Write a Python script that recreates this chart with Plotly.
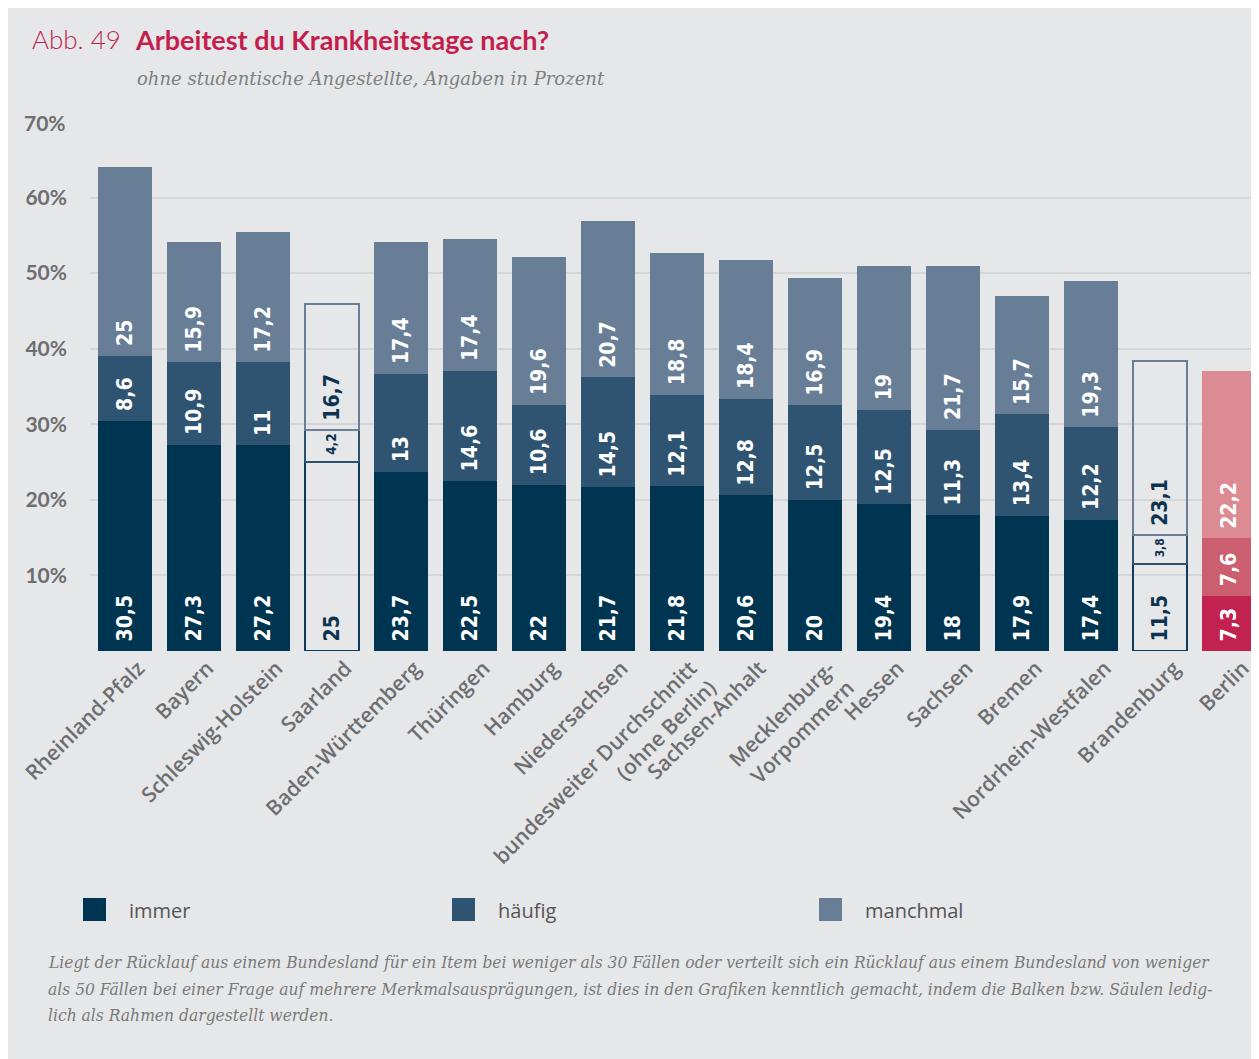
import plotly.graph_objects as go

# ---------------- data ----------------
categories = [
    "Rheinland-Pfalz", "Bayern", "Schleswig-Holstein", "Saarland",
    "Baden-Württemberg", "Thüringen", "Hamburg", "Niedersachsen",
    "bundesweiter Durchschnitt<br>(ohne Berlin)", "Sachsen-Anhalt",
    "Mecklenburg-<br>Vorpommern", "Hessen", "Sachsen", "Bremen",
    "Nordrhein-Westfalen", "Brandenburg", "Berlin",
]
immer = [30.5, 27.3, 27.2, 25, 23.7, 22.5, 22, 21.7, 21.8, 20.6, 20, 19.4, 18, 17.9, 17.4, 11.5, 7.3]
haeufig = [8.6, 10.9, 11, 4.2, 13, 14.6, 10.6, 14.5, 12.1, 12.8, 12.5, 12.5, 11.3, 13.4, 12.2, 3.8, 7.6]
manchmal = [25, 15.9, 17.2, 16.7, 17.4, 17.4, 19.6, 20.7, 18.8, 18.4, 16.9, 19, 21.7, 15.7, 19.3, 23.1, 22.2]
series_names = ["immer", "häufig", "manchmal"]
outline_only = ["Saarland", "Brandenburg"]
highlight = ["Berlin"]
y_tick_vals = [10, 20, 30, 40, 50, 60]
y_tick_text = ["10%", "20%", "30%", "40%", "50%", "60%"]
top_tick_val = 70
top_tick_text = "70%"

# ---------------- style ----------------
BG = "#e6e7e8"
GRID = "#d5d6d8"
NAVY = "#0d3350"
base_colors = ["#003551", "#2f5472", "#687e97"]
berlin_colors = ["#c1224f", "#cc5f6f", "#dc8b92"]
outline_colors = ["#0f3a59", "#2b5070", "#6a7f97"]

OFF = 8  # page body margin
W, H = 1251, 1051
L, R, T, B = 82, 0, 114, 408
PW = W - L - R
PH = H - T - B


def px_x(x):
    return (x - OFF - L) / PW


def px_y(y):
    return (H - B - (y - OFF)) / PH


def fmt(v):
    return f"{v:g}".replace(".", ",")


fig = go.Figure()
for s, (name, vals) in enumerate(zip(series_names, [immer, haeufig, manchmal])):
    fills, lcols, lw, tcols = [], [], [], []
    for cat in categories:
        if cat in outline_only:
            fills.append("rgba(0,0,0,0)")
            lcols.append(outline_colors[s])
            lw.append(2)
            tcols.append(NAVY)
        elif cat in highlight:
            fills.append(berlin_colors[s])
            lcols.append(berlin_colors[s])
            lw.append(0)
            tcols.append("white")
        else:
            fills.append(base_colors[s])
            lcols.append(base_colors[s])
            lw.append(0)
            tcols.append("white")
    fig.add_trace(go.Bar(
        x=categories, y=vals, name=name,
        marker=dict(color=fills, line=dict(color=lcols, width=lw)),
        text=["\u00a0" + fmt(v) for v in vals],
        textposition="inside", insidetextanchor="start", textangle=-90,
        textfont=dict(family="DejaVu Sans Condensed", size=21, color=tcols, weight="bold"),
        showlegend=False, hoverinfo="skip",
    ))

fig.update_layout(
    width=W, height=H,
    margin=dict(l=L, r=R, t=T, b=B, pad=0),
    paper_bgcolor=BG, plot_bgcolor=BG,
    barmode="stack", bargap=0.218,
    xaxis=dict(
        range=[-0.5, 16.435], tickangle=-45, showgrid=False, zeroline=False,
        showline=False, ticks="", ticklabelstandoff=0, ticklabelshift=14,
        tickfont=dict(family="Open Sans", size=21, color="#6d6e71", weight=600),
    ),
    yaxis=dict(
        range=[0, 70], tickvals=y_tick_vals, ticktext=y_tick_text,
        showgrid=True, gridcolor=GRID, gridwidth=1.5, zeroline=False, showline=False,
        ticks="", ticklabelstandoff=22,
        tickfont=dict(family="Lato", size=21, color="#6d6e71", weight="bold"),
    ),
    font=dict(family="Open Sans"),
)

ann = []
ann.append(dict(x=px_x(68), y=top_tick_val, xref="paper", yref="y", text=top_tick_text,
                showarrow=False, xanchor="right", yanchor="middle",
                font=dict(family="Lato", size=21, color="#6d6e71", weight="bold")))
# title
ann.append(dict(x=px_x(30), y=px_y(39), xref="paper", yref="paper", text="Abb. 49",
                showarrow=False, xanchor="left", yanchor="middle",
                font=dict(family="Lato", size=26, color="#c41e4f", weight=300)))
ann.append(dict(x=px_x(133), y=px_y(39), xref="paper", yref="paper",
                text="Arbeitest du Krankheitstage nach?",
                showarrow=False, xanchor="left", yanchor="middle",
                font=dict(family="Lato", size=27, color="#c41e4f", weight="bold")))
ann.append(dict(x=px_x(135), y=px_y(78), xref="paper", yref="paper",
                text="ohne studentische Angestellte, Angaben in Prozent",
                showarrow=False, xanchor="left", yanchor="middle",
                font=dict(family="DejaVu Serif", size=18, color="#808080", style="italic")))
# legend
legend_x = [83, 452, 819]
shapes = []
for i, name in enumerate(series_names):
    x0 = legend_x[i]
    shapes.append(dict(type="rect", xref="paper", yref="paper",
                       x0=px_x(x0), x1=px_x(x0 + 23), y0=px_y(898), y1=px_y(921),
                       fillcolor=base_colors[i], line=dict(width=0)))
    ann.append(dict(x=px_x(x0 + 44), y=px_y(910), xref="paper", yref="paper", text=name,
                    showarrow=False, xanchor="left", yanchor="middle",
                    font=dict(family="Open Sans", size=20, color="#555555")))
# footnote
foot = [
    "Liegt der Rücklauf aus einem Bundesland für ein Item bei weniger als 30 Fällen oder verteilt sich ein Rücklauf aus einem Bundesland von weniger",
    "als 50 Fällen bei einer Frage auf mehrere Merkmalsausprägungen, ist dies in den Grafiken kenntlich gemacht, indem die Balken bzw. Säulen ledig-",
    "lich als Rahmen dargestellt werden.",
]
for i, line in enumerate(foot):
    ann.append(dict(x=px_x(46), y=px_y(962 + i * 26.5), xref="paper", yref="paper", text=line,
                    showarrow=False, xanchor="left", yanchor="middle",
                    font=dict(family="DejaVu Serif Condensed", size=17.3, color="#7a7a7a", style="italic")))

fig.update_layout(annotations=ann, shapes=shapes)
fig.write_html("out.html")
